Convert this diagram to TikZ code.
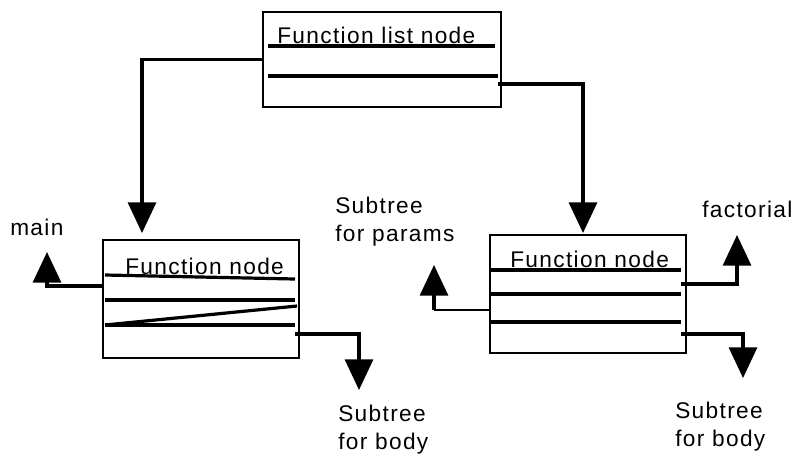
\documentclass[tikz,border=0pt]{standalone}
\usepackage{fontspec}
\setmainfont{Liberation Sans}[LetterSpace=6]
\usetikzlibrary{arrows.meta}
\tikzset{
    fbox/.style={draw, line width=1.5pt, inner sep=0pt},
    row/.style={line width=2.4pt},
    conn/.style={line width=2.4pt, -{Triangle[length=23pt,width=21pt]}},
    lbl/.style={inner sep=0pt, font=\fontsize{17}{21}\selectfont, align=left}
}

\begin{document}
\begin{tikzpicture}[x=0.75pt,y=-0.75pt]

    \useasboundingbox (0,0) rectangle (798,454);

    % boxes
    \node[fbox, minimum width=178.5pt, minimum height=71.25pt] (listnode) at (382,59.5) {};
    \node[fbox, minimum width=147pt, minimum height=88.5pt] (mainnode) at (201,299) {};
    \node[fbox, minimum width=147pt, minimum height=88.5pt] (factnode) at (588,294) {};

    % box titles
    \node[lbl, anchor=base west] (listtitle) at (277,43) {Function list node};
    \node[lbl, anchor=base west] (maintitle) at (125,274) {Function node};
    \node[lbl, anchor=base west] (facttitle) at (510,267) {Function node};

    %rows of top box
    \draw[row] (268,46) -- (495,46);
    \draw[row] (268,76) -- (498,76);

    %rows of left box
    \draw[row] (105,275) -- (295,279);
    \draw[row] (105,300) -- (295,300);
    \draw[row] (105,325) -- (297,306);
    \draw[row] (105,325) -- (295,325);

    %rows of right box
    \foreach \y in {270,294,322}
        \draw[row] (490,\y) -- (681,\y);

    % ports and arrow ends
    \coordinate (listout) at (498,84);
    \coordinate (mainin) at (142,233);
    \coordinate (factin) at (583,233);
    \coordinate (mainname) at (103,286);
    \coordinate (mainnameend) at (47,252);
    \coordinate (mainbody) at (295,334);
    \coordinate (mainbodyend) at (359,390);
    \coordinate (factparams) at (490,310);
    \coordinate (factparamsbend) at (434,310);
    \coordinate (factparamsend) at (434,265);
    \coordinate (factname) at (681,284);
    \coordinate (factnameend) at (737,235);
    \coordinate (factbody) at (681,334);
    \coordinate (factbodyend) at (743,378);

    %list node to function nodes
    \draw[conn] (listnode.west) -| (mainin);
    \draw[conn] (listout) -| (factin);

    %left function node
    \draw[conn] (mainname) -| (mainnameend);
    \draw[conn] (mainbody) -| (mainbodyend);

    %right function node
    \draw[line width=0.8pt] (factparams) -- (factparamsbend);
    \draw[conn] (factparamsbend) -- (factparamsend);
    \draw[conn] (factname) -| (factnameend);
    \draw[conn] (factbody) -| (factbodyend);

    % labels
    \node[lbl, anchor=base west] (mainlbl) at (10,235) {main};
    \node[lbl, anchor=base west] (factlbl) at (702,217) {factorial};
    \node[lbl, anchor=north west] (paramslbl) at (335,197) {Subtree\\for params};
    \node[lbl, anchor=north west] (mainbodylbl) at (338,405) {Subtree\\for body};
    \node[lbl, anchor=north west] (factbodylbl) at (675,402) {Subtree\\for body};

\end{tikzpicture}
\end{document}
